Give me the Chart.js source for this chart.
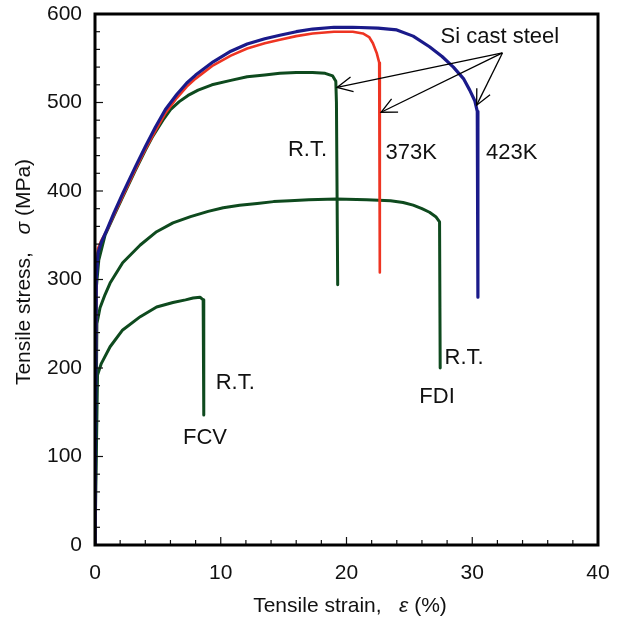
<!DOCTYPE html>
<html>
<head>
<meta charset="utf-8">
<script src="https://cdn.jsdelivr.net/npm/chart.js@4.4.1/dist/chart.umd.min.js"></script>
<style>
  html, body { margin: 0; padding: 0; background: #fff; }
  #wrap { width: 619px; height: 621px; }
</style>
</head>
<body>
<div id="wrap"><canvas id="chartSS" width="619" height="621"></canvas></div>
<script>
// Si cast steel, 423K
const strain423 = [0, 0.1, 0.24, 0.5, 1, 1.5, 2.2, 3.2, 4, 4.8, 5.6, 6.5, 7.3, 8, 9.4, 10.8, 12.1, 13.5, 14.7, 16, 17.3, 19, 20.5, 22.5, 24, 25.3, 26.6, 27.6, 28.5, 29.3, 29.8, 30.2, 30.4, 30.45, 30.45];
const stress423 = [0, 300, 330, 342, 358, 375, 397, 427, 450, 472, 492, 509, 522, 531, 546, 558, 566, 572, 576, 580, 583, 585, 585, 584, 582, 575, 563, 552, 540, 527, 514, 502, 490, 470, 280];

// Si cast steel, 373K
const strain373 = [0, 0.1, 0.24, 0.5, 1, 1.5, 2.2, 3.2, 4, 4.8, 5.6, 6.5, 7.3, 8, 9.4, 10.8, 12.1, 13.5, 14.7, 16, 17.3, 19, 20.5, 21.3, 21.8, 22.1, 22.4, 22.6, 22.65, 22.65];
const stress373 = [0, 305, 335, 344, 357, 373, 394, 424, 447, 468, 488, 505, 518, 527, 542, 553, 561, 567, 571, 575, 578, 580, 580, 578, 574, 567, 556, 545, 520, 308];

// Si cast steel, R.T.
const strainSiRT = [0, 0.1, 0.3, 0.8, 1.5, 2.2, 3.2, 4, 4.6, 5.4, 6, 6.7, 7.4, 8.2, 9.3, 10.8, 12.1, 13.5, 14.7, 16, 17.3, 18.3, 18.9, 19.15, 19.2, 19.3];
const stressSiRT = [0, 290, 322, 350, 372, 393, 423, 446, 462, 480, 492, 501, 508, 514, 520, 525, 529, 531, 533, 534, 534, 533, 530, 524, 500, 294];

// FDI, R.T.
const strainFDI = [0, 0.15, 0.4, 0.8, 1.2, 2.2, 3.6, 4.9, 6.2, 7.6, 9, 10.2, 11.5, 12.9, 14.2, 15.5, 17, 19.2, 21.6, 23.5, 24.5, 25.3, 26, 26.6, 27.1, 27.4, 27.45];
const stressFDI = [0, 250, 268, 283, 296, 319, 339, 354, 364, 371, 377, 381, 384, 386, 388, 389, 390, 391, 390, 389, 387, 384, 380, 376, 371, 365, 200];

// FCV, R.T.
const strainFCV = [0, 0.2, 0.5, 1.2, 2.2, 3.6, 4.9, 6.2, 7.2, 7.8, 8.35, 8.6, 8.65];
const stressFCV = [0, 192, 205, 224, 243, 258, 269, 274, 277, 279, 280, 277, 147];

// text notes, placed in data units (strain %, MPa)
const noteTexts = ['Si cast steel', 'R.T.', '373K', '423K', 'R.T.', 'FDI', 'R.T.', 'FCV'];
const noteStrain = [32.2, 16.9, 23.1, 31.1, 27.8, 27.2, 9.6, 8.75];
const noteStress = [574, 446, 443, 443, 211, 167, 183, 121];
const noteAlign = ['center', 'center', 'left', 'left', 'left', 'center', 'left', 'center'];

// arrows from one source point to the three Si cast steel curves
const arrowFrom = [32.4, 556];
const arrowToStrain = [19.25, 22.75, 30.35];
const arrowToStress = [517, 489, 497];

const FONT = "'Liberation Sans', Arial, Helvetica, sans-serif";

function pts(xs, ys) {
    return xs.map((x, i) => ({ x: x, y: ys[i] }));
}

function line(label, xs, ys, color, width) {
    return {
        label: label,
        data: pts(xs, ys),
        showLine: true,
        borderColor: color,
        backgroundColor: color,
        borderWidth: width,
        pointRadius: 0,
        tension: 0,
        borderJoinStyle: 'round',
        borderCapStyle: 'round'
    };
}

// frame, inward ticks, axis titles, notes and arrows
const decorPlugin = {
    id: 'decor',
    afterDraw(chart) {
        const c = chart.ctx;
        const a = chart.chartArea;
        const sx = chart.scales.x, sy = chart.scales.y;
        c.save();

        // minor / major ticks pointing inside
        c.strokeStyle = '#111';
        c.lineWidth = 1.2;
        for (let v = 2; v < 40; v += 2) {
            const px = sx.getPixelForValue(v);
            const len = v % 10 === 0 ? 8 : 5;
            c.beginPath(); c.moveTo(px, a.bottom); c.lineTo(px, a.bottom - len); c.stroke();
        }
        for (let v = 20; v < 600; v += 20) {
            const py = sy.getPixelForValue(v);
            const len = v % 100 === 0 ? 8 : 5;
            c.beginPath(); c.moveTo(a.left, py); c.lineTo(a.left + len, py); c.stroke();
        }

        // frame
        c.strokeStyle = '#000';
        c.lineWidth = 3;
        c.strokeRect(a.left, a.top, a.right - a.left, a.bottom - a.top);

        // arrows
        c.lineWidth = 1.3;
        c.strokeStyle = '#000';
        const fx = sx.getPixelForValue(arrowFrom[0]), fy = sy.getPixelForValue(arrowFrom[1]);
        arrowToStrain.forEach((s, i) => {
            const tx = sx.getPixelForValue(s), ty = sy.getPixelForValue(arrowToStress[i]);
            c.beginPath(); c.moveTo(fx, fy); c.lineTo(tx, ty); c.stroke();
            const ang = Math.atan2(fy - ty, fx - tx);
            const hl = 17, spread = 0.45;
            c.beginPath();
            c.moveTo(tx + hl * Math.cos(ang - spread), ty + hl * Math.sin(ang - spread));
            c.lineTo(tx, ty);
            c.lineTo(tx + hl * Math.cos(ang + spread), ty + hl * Math.sin(ang + spread));
            c.stroke();
        });

        // notes
        c.fillStyle = '#111';
        c.font = '22px ' + FONT;
        c.textBaseline = 'middle';
        noteTexts.forEach((t, i) => {
            c.textAlign = noteAlign[i];
            c.fillText(t, sx.getPixelForValue(noteStrain[i]), sy.getPixelForValue(noteStress[i]));
        });

        // x title with italic epsilon
        const xParts = [['Tensile strain,   ', ''], ['\u03b5', 'italic '], [' (%)', '']];
        drawParts(c, xParts, 350, 606, 0);

        // y title with italic sigma
        const yParts = [['Tensile stress,   ', ''], ['\u03c3', 'italic '], [' (MPa)', '']];
        drawParts(c, yParts, 24, 272, -Math.PI / 2);

        c.restore();
    }
};

function drawParts(c, parts, cx, cy, rot) {
    c.save();
    c.translate(cx, cy);
    c.rotate(rot);
    c.textBaseline = 'middle';
    c.textAlign = 'left';
    let total = 0;
    parts.forEach(p => { c.font = p[1] + '21px ' + FONT; total += c.measureText(p[0]).width; });
    let x = -total / 2;
    parts.forEach(p => {
        c.font = p[1] + '21px ' + FONT;
        c.fillText(p[0], x, 0);
        x += c.measureText(p[0]).width;
    });
    c.restore();
}

document.addEventListener('DOMContentLoaded', function () {
    const ctx = document.getElementById('chartSS').getContext('2d');
    new Chart(ctx, {
        type: 'scatter',
        data: {
            datasets: [
                line('423K', strain423, stress423, '#1a1a8a', 3.2),
                line('373K', strain373, stress373, '#ee3422', 2.6),
                line('Si R.T.', strainSiRT, stressSiRT, '#0e4a1e', 3),
                line('FDI R.T.', strainFDI, stressFDI, '#0e4a1e', 3),
                line('FCV R.T.', strainFCV, stressFCV, '#0e4a1e', 3)
            ]
        },
        options: {
            responsive: false,
            animation: false,
            layout: { padding: { top: 14, right: 21, left: 0, bottom: 0 } },
            plugins: {
                legend: { display: false },
                tooltip: { enabled: false }
            },
            scales: {
                x: {
                    type: 'linear',
                    min: 0, max: 40,
                    ticks: { stepSize: 10, color: '#111', font: { family: FONT, size: 21 }, padding: 16 },
                    grid: { display: false, drawTicks: false },
                    border: { display: false },
                    afterFit(s) { s.height = 76; s.paddingLeft = 0; s.paddingRight = 0; }
                },
                y: {
                    min: 0, max: 600,
                    ticks: { stepSize: 100, color: '#111', font: { family: FONT, size: 21 }, padding: 13 },
                    grid: { display: false, drawTicks: false },
                    border: { display: false },
                    afterFit(s) { s.width = 95; s.paddingTop = 0; s.paddingBottom = 0; }
                }
            }
        },
        plugins: [decorPlugin]
    });
});
</script>
</body>
</html>
